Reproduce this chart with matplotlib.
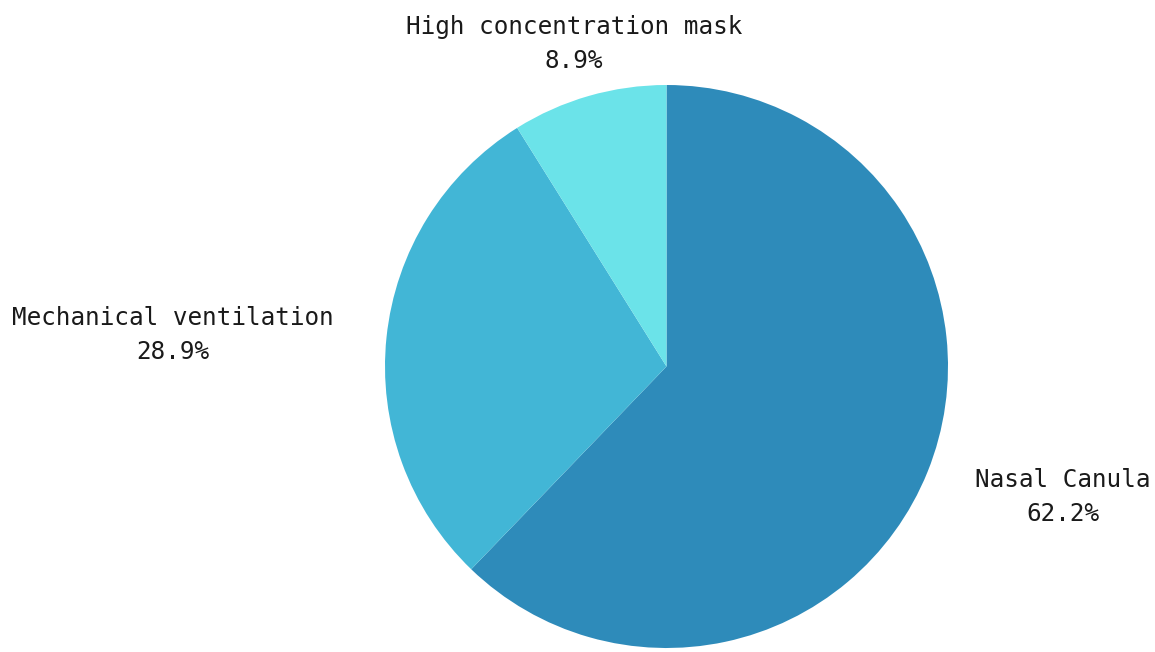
import matplotlib
matplotlib.use("Agg")
import matplotlib.pyplot as plt

categories = ["Nasal Canula", "Mechanical ventilation", "High concentration mask"]
shares = [62.2, 28.9, 8.9]
colors = ["#2E8BBA", "#42B6D6", "#6BE3E9"]

W, H = 1155, 652
fig = plt.figure(figsize=(W / 100, H / 100), dpi=100)
ax = fig.add_axes([0, 0, 1, 1])

ax.pie(shares, colors=colors, startangle=90, counterclock=False,
       radius=1.0, wedgeprops=dict(linewidth=0))

# pie geometry in pixels
cx, cy, r = 666.5, 366.5, 281.5
ax.set_aspect("auto")
ax.set_xlim(-cx / r, (W - cx) / r)
ax.set_ylim(-(H - cy) / r, cy / r)
ax.axis("off")

# label centres (pixel coordinates, top-left origin)
label_pos = [(1063, 497), (173, 335), (574, 44)]
for name, val, (px, py) in zip(categories, shares, label_pos):
    ax.text((px - cx) / r, (cy - py) / r, f"{name}\n{val:.1f}%",
            ha="center", va="center", fontsize=17.5, family="DejaVu Sans Mono",
            color="#1a1a1a", linespacing=1.55)

fig.savefig("out.png", dpi=100)
